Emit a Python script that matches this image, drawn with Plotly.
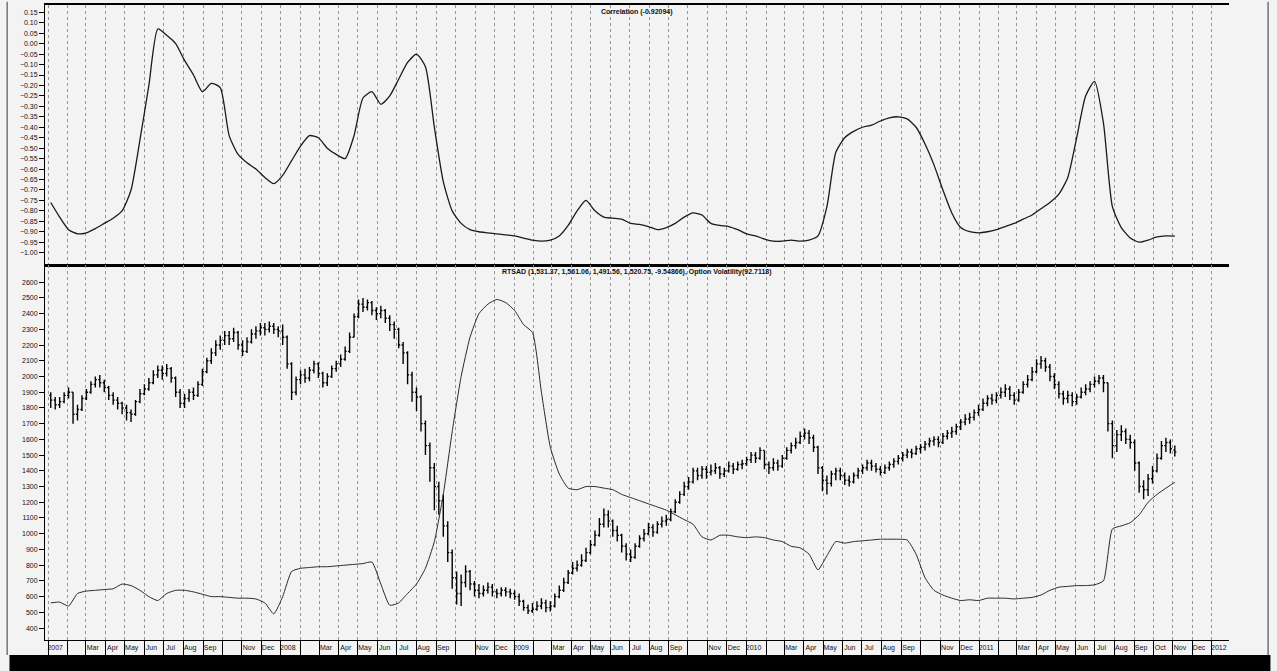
import pandas as pd
import plotly.graph_objects as go

# Weekly RTS index bars (open / high / low / close), Jan 2007 - Nov 2011
week_open = [
    1880, 1850, 1820, 1840, 1880, 1900, 1760, 1790, 1860, 1900,
    1950, 1980, 1960, 1930, 1880, 1850, 1830, 1800, 1770, 1760,
    1840, 1890, 1920, 1960, 2010, 2040, 2020, 2050, 1990, 1900,
    1830, 1860, 1900, 1880, 1950, 2030, 2100, 2150, 2200, 2230,
    2260, 2240, 2280, 2200, 2160, 2220, 2270, 2290, 2310, 2300,
    2320, 2300, 2290, 2250, 2080, 1900, 1980, 2010, 1990, 2040,
    2080, 2020, 1960, 2000, 2050, 2080, 2110, 2160, 2250, 2380,
    2460, 2440, 2470, 2420, 2400, 2420, 2370, 2330, 2300, 2200,
    2150, 2010, 1900, 1870, 1700, 1560, 1420, 1300, 1210, 1050,
    880, 720, 620, 690, 760, 680, 640, 620, 640, 660,
    630, 620, 640, 630, 620, 600, 570, 530, 510, 520,
    540, 560, 530, 540, 600, 640, 690, 750, 780, 800,
    830, 880, 930, 990, 1060, 1120, 1080, 1020, 990, 920,
    870, 850, 920, 970, 1000, 1040, 1010, 1060, 1080, 1090,
    1140, 1200, 1250, 1300, 1330, 1400, 1370, 1410, 1390, 1400,
    1420, 1380, 1400, 1430, 1410, 1440, 1445, 1470, 1500, 1480,
    1530, 1440, 1420, 1450, 1430, 1480, 1530, 1560, 1580, 1620,
    1640, 1610, 1550, 1420, 1340, 1320, 1380, 1400, 1370, 1340,
    1330, 1370, 1400, 1420, 1450, 1430, 1410, 1390, 1420, 1440,
    1460, 1480, 1500, 1520, 1510, 1540, 1550, 1570, 1590, 1600,
    1580, 1620, 1640, 1650, 1680, 1710, 1730, 1740, 1770, 1790,
    1830, 1860, 1850, 1880, 1900, 1920, 1880, 1850, 1900, 1950,
    1980, 2030, 2080, 2100, 2060, 2000, 1950, 1890, 1860, 1880,
    1840, 1870, 1900, 1920, 1950, 1970, 1990, 1960, 1700, 1560,
    1630, 1650, 1600, 1580, 1450, 1300, 1280, 1350, 1400, 1480,
    1560, 1580, 1531.37,
]
week_high = [
    1900, 1870, 1870, 1900, 1930, 1900, 1820, 1880, 1920, 1970,
    2000, 2010, 1980, 1940, 1900, 1870, 1840, 1820, 1790, 1850,
    1920, 1950, 1990, 2040, 2070, 2070, 2080, 2060, 2000, 1920,
    1890, 1920, 1930, 1970, 2050, 2120, 2180, 2230, 2260, 2290,
    2290, 2310, 2290, 2230, 2250, 2300, 2320, 2340, 2340, 2350,
    2340, 2320, 2330, 2260, 2090, 2000, 2040, 2050, 2060, 2100,
    2090, 2030, 2020, 2070, 2100, 2140, 2190, 2280, 2400, 2490,
    2500, 2490, 2480, 2440, 2450, 2430, 2390, 2350, 2310, 2220,
    2160, 2030, 1930, 1880, 1720, 1580, 1450, 1330, 1250, 1080,
    900, 760, 740, 800, 770, 700, 680, 670, 690, 680,
    650, 660, 660, 650, 640, 620, 580, 550, 560, 570,
    590, 580, 570, 620, 670, 720, 770, 820, 830, 870,
    910, 960, 1020, 1100, 1160, 1150, 1090, 1050, 1000, 940,
    900, 940, 990, 1030, 1070, 1060, 1080, 1110, 1120, 1160,
    1220, 1270, 1330, 1360, 1420, 1420, 1430, 1430, 1440, 1450,
    1430, 1420, 1460, 1450, 1460, 1470, 1490, 1520, 1520, 1550,
    1530, 1460, 1480, 1470, 1500, 1550, 1580, 1610, 1650, 1670,
    1660, 1630, 1560, 1430, 1370, 1400, 1420, 1420, 1390, 1370,
    1390, 1420, 1440, 1470, 1470, 1450, 1430, 1440, 1460, 1480,
    1500, 1520, 1540, 1540, 1560, 1570, 1590, 1610, 1620, 1620,
    1640, 1660, 1680, 1700, 1730, 1760, 1770, 1790, 1820, 1860,
    1880, 1890, 1900, 1930, 1950, 1940, 1900, 1920, 1970, 2010,
    2060, 2110, 2130, 2120, 2080, 2020, 1970, 1910, 1910, 1900,
    1890, 1930, 1950, 1970, 2000, 2010, 2010, 1960, 1720, 1660,
    1690, 1670, 1630, 1600, 1460, 1340, 1380, 1430, 1510, 1590,
    1610, 1600, 1561.06,
]
week_low = [
    1800, 1790, 1800, 1830, 1860, 1700, 1720, 1780, 1850, 1890,
    1930, 1930, 1900, 1850, 1820, 1790, 1760, 1720, 1710, 1750,
    1830, 1880, 1910, 1950, 1990, 1980, 2000, 1960, 1870, 1800,
    1800, 1840, 1850, 1870, 1940, 2020, 2080, 2130, 2170, 2200,
    2200, 2220, 2170, 2130, 2150, 2210, 2240, 2260, 2260, 2280,
    2270, 2250, 2200, 2050, 1850, 1880, 1950, 1960, 1970, 2020,
    1990, 1930, 1940, 1990, 2030, 2060, 2100, 2150, 2250, 2370,
    2410, 2420, 2390, 2360, 2370, 2340, 2290, 2240, 2180, 2080,
    1950, 1840, 1780, 1650, 1500, 1330, 1150, 1120, 980, 820,
    650, 550, 540, 660, 640, 600, 590, 600, 620, 600,
    590, 600, 600, 590, 580, 540, 510, 490, 495, 510,
    520, 500, 505, 530, 590, 630, 680, 740, 760, 790,
    820, 870, 920, 980, 1040, 1040, 980, 950, 880, 830,
    820, 840, 910, 950, 990, 980, 1000, 1040, 1050, 1080,
    1130, 1190, 1240, 1280, 1320, 1340, 1350, 1350, 1370, 1380,
    1350, 1360, 1390, 1380, 1400, 1410, 1430, 1450, 1450, 1470,
    1410, 1380, 1400, 1400, 1420, 1470, 1510, 1540, 1570, 1600,
    1570, 1520, 1380, 1270, 1250, 1300, 1340, 1340, 1310, 1300,
    1320, 1350, 1380, 1400, 1400, 1390, 1370, 1380, 1400, 1420,
    1440, 1460, 1480, 1480, 1500, 1510, 1530, 1550, 1560, 1550,
    1570, 1600, 1610, 1630, 1660, 1690, 1700, 1720, 1750, 1780,
    1810, 1820, 1830, 1860, 1870, 1850, 1820, 1840, 1890, 1930,
    1970, 2020, 2050, 2030, 1970, 1920, 1860, 1820, 1830, 1810,
    1820, 1860, 1880, 1900, 1930, 1950, 1900, 1650, 1480, 1520,
    1590, 1570, 1540, 1400, 1260, 1220, 1240, 1320, 1390, 1470,
    1520, 1510, 1491.56,
]
week_close = [
    1850, 1820, 1840, 1880, 1900, 1760, 1790, 1860, 1900, 1950,
    1980, 1960, 1930, 1880, 1850, 1830, 1800, 1770, 1760, 1840,
    1890, 1920, 1960, 2010, 2040, 2020, 2050, 1990, 1900, 1830,
    1860, 1900, 1880, 1950, 2030, 2100, 2150, 2200, 2230, 2260,
    2240, 2280, 2200, 2160, 2220, 2270, 2290, 2310, 2300, 2320,
    2300, 2290, 2250, 2080, 1900, 1980, 2010, 1990, 2040, 2080,
    2020, 1960, 2000, 2050, 2080, 2110, 2160, 2250, 2380, 2460,
    2440, 2470, 2420, 2400, 2420, 2370, 2330, 2300, 2200, 2150,
    2010, 1900, 1870, 1700, 1560, 1420, 1300, 1210, 1050, 880,
    720, 620, 690, 760, 680, 640, 620, 640, 660, 630,
    620, 640, 630, 620, 600, 570, 530, 510, 520, 540,
    560, 530, 540, 600, 640, 690, 750, 780, 800, 830,
    880, 930, 990, 1060, 1120, 1080, 1020, 990, 920, 870,
    850, 920, 970, 1000, 1040, 1010, 1060, 1080, 1090, 1140,
    1200, 1250, 1300, 1330, 1400, 1370, 1410, 1390, 1400, 1420,
    1380, 1400, 1430, 1410, 1440, 1445, 1470, 1500, 1480, 1530,
    1440, 1420, 1450, 1430, 1480, 1530, 1560, 1580, 1620, 1640,
    1610, 1550, 1420, 1340, 1320, 1380, 1400, 1370, 1340, 1330,
    1370, 1400, 1420, 1450, 1430, 1410, 1390, 1420, 1440, 1460,
    1480, 1500, 1520, 1510, 1540, 1550, 1570, 1590, 1600, 1580,
    1620, 1640, 1650, 1680, 1710, 1730, 1740, 1770, 1790, 1830,
    1860, 1850, 1880, 1900, 1920, 1880, 1850, 1900, 1950, 1980,
    2030, 2080, 2100, 2060, 2000, 1950, 1890, 1860, 1880, 1840,
    1870, 1900, 1920, 1950, 1970, 1990, 1960, 1700, 1560, 1630,
    1650, 1600, 1580, 1450, 1300, 1280, 1350, 1400, 1480, 1560,
    1580, 1540, 1520.75,
]

# Fortnightly correlation between index and option volatility
corr_values = [
    -0.76, -0.83, -0.89, -0.91, -0.905, -0.885, -0.86, -0.835, -0.80, -0.70,
    -0.46, -0.20, 0.07, 0.04, 0.00, -0.08, -0.15, -0.23, -0.19, -0.21,
    -0.44, -0.53, -0.57, -0.60, -0.64, -0.67, -0.63, -0.56, -0.49, -0.44,
    -0.45, -0.50, -0.53, -0.55, -0.44, -0.26, -0.23, -0.29, -0.25, -0.17,
    -0.09, -0.05, -0.11, -0.40, -0.66, -0.80, -0.86, -0.89, -0.90, -0.905,
    -0.91, -0.915, -0.92, -0.93, -0.94, -0.945, -0.94, -0.92, -0.87, -0.80,
    -0.75, -0.80, -0.83, -0.835, -0.84, -0.86, -0.865, -0.875, -0.89, -0.88,
    -0.86, -0.83, -0.81, -0.82, -0.86, -0.87, -0.875, -0.89, -0.91, -0.92,
    -0.935, -0.945, -0.945, -0.94, -0.945, -0.94, -0.92, -0.78, -0.52, -0.45,
    -0.42, -0.40, -0.39, -0.37, -0.355, -0.35, -0.36, -0.40, -0.48, -0.58,
    -0.70, -0.81, -0.88, -0.90, -0.905, -0.90, -0.89, -0.875, -0.86, -0.84,
    -0.82, -0.79, -0.76, -0.72, -0.64, -0.45, -0.25, -0.18, -0.38, -0.78,
    -0.88, -0.93, -0.95, -0.94, -0.925, -0.92, -0.92094,
]

# Fortnightly option volatility
vol_values = [
    16.0, 16.5, 14.0, 22.0, 23.5, 24.0, 24.5, 25.0, 28.0, 27.0,
    24.0, 20.0, 17.5, 22.0, 24.0, 24.0, 23.0, 21.5, 20.0, 20.0,
    19.5, 19.0, 19.0, 18.5, 16.0, 9.0, 20.0, 36.0, 38.0, 38.5,
    39.0, 39.0, 39.5, 40.0, 40.5, 41.0, 42.0, 28.0, 14.5, 16.0,
    22.0, 28.0, 38.0, 55.0, 85.0, 125.0, 160.0, 185.0, 200.0, 206.0,
    209.0, 207.0, 202.0, 193.0, 188.0, 150.0, 115.0, 98.0, 89.0, 88.0,
    90.0, 90.0, 89.0, 88.0, 85.0, 83.0, 81.0, 79.0, 77.0, 75.0,
    72.0, 69.0, 66.0, 58.0, 56.0, 59.0, 59.0, 58.0, 57.5, 58.0,
    57.5, 56.0, 55.0, 52.0, 51.0, 47.0, 37.0, 46.0, 55.0, 54.0,
    55.0, 55.5, 56.0, 56.5, 56.5, 56.5, 56.0, 47.0, 32.0, 24.0,
    21.0, 19.0, 17.5, 18.0, 17.5, 19.0, 19.0, 19.0, 18.5, 19.0,
    19.5, 21.0, 24.0, 26.0, 26.5, 27.0, 27.0, 27.5, 30.0, 63.0,
    65.0, 67.0, 72.0, 80.0, 85.0, 89.0, 92.7118,
]

# Month captions along the date axis (Jan 2007 .. Jan 2012)
month_labels = [
    "2007", "", "Mar", "Apr", "May", "Jun", "Jul", "Aug", "Sep", "", "Nov", "Dec",
    "2008", "", "Mar", "Apr", "May", "Jun", "Jul", "Aug", "Sep", "", "Nov", "Dec",
    "2009", "", "Mar", "Apr", "May", "Jun", "Jul", "Aug", "Sep", "", "Nov", "Dec",
    "2010", "", "Mar", "Apr", "May", "Jun", "Jul", "Aug", "Sep", "", "Nov", "Dec",
    "2011", "", "Mar", "Apr", "May", "Jun", "Jul", "Aug", "Sep", "Oct", "Nov", "Dec",
    "2012",
]
corr_ticks = [round(0.15 - 0.05 * k, 2) for k in range(24)]
price_ticks = list(range(400, 2700, 100))

corr_title = "Correlation (-0.92094)"
price_title = ("RTSAD (1,531.37, 1,561.06, 1,491.56, 1,520.75, -9.54866), "
               "Option Volatility(92.7118)")

weeks = pd.date_range("2007-01-05", periods=len(week_close), freq="7D")
fortnights = pd.date_range("2007-01-05", periods=len(corr_values), freq="14D")
month_starts = pd.date_range("2007-01-01", periods=len(month_labels), freq="MS")
label_pos = month_starts + pd.Timedelta(days=11)

BG = "#f3f3f3"
INK = "#111111"
FONT = "Liberation Sans, Arial, sans-serif"
tick_font = dict(family=FONT, size=7, color=INK)
x_range = ["2006-12-27", "2012-01-28"]
corr_range = [-1.06, 0.185]
price_range = [324, 2708]
vol_range = [(price_range[0] - 400) / 10, (price_range[1] - 400) / 10]
split = (640 - 264) / 637

month_grid = dict(tickmode="array", tickvals=list(month_starts), showgrid=True,
                  griddash="dot", gridcolor="#959595", gridwidth=1)

fig = go.Figure()

fig.add_trace(go.Scatter(
    x=fortnights, y=corr_values, mode="lines", xaxis="x", yaxis="y",
    line=dict(color="#1a1a1a", width=1.3, shape="spline", smoothing=0.6),
    showlegend=False,
))
fig.add_trace(go.Ohlc(
    x=weeks, open=week_open, high=week_high, low=week_low, close=week_close,
    xaxis="x2", yaxis="y2", tickwidth=0.35,
    increasing=dict(line=dict(color="#000000", width=1.4)),
    decreasing=dict(line=dict(color="#000000", width=1.4)),
    showlegend=False,
))
fig.add_trace(go.Scatter(
    x=fortnights, y=vol_values, mode="lines", xaxis="x2", yaxis="y5",
    line=dict(color="#2a2a2a", width=1.0, shape="spline", smoothing=0.5),
    showlegend=False,
))

fig.update_layout(
    width=1277, height=671,
    margin=dict(l=45, r=48, t=3, b=31),
    paper_bgcolor=BG, plot_bgcolor=BG,
    showlegend=False,
    xaxis=dict(domain=[0, 1], anchor="y", type="date", range=x_range,
               matches="x2", tickmode="array", tickvals=list(label_pos),
               showticklabels=False, ticks="", showgrid=False, zeroline=False,
               minor=dict(month_grid), showline=True, linecolor="black",
               linewidth=1.5, mirror=True),
    xaxis2=dict(domain=[0, 1], anchor="y2", type="date", range=x_range,
                tickmode="array", tickvals=list(label_pos), ticktext=month_labels,
                ticks="", showgrid=False, zeroline=False, tickfont=tick_font,
                minor=dict(month_grid, ticks="outside", ticklen=15,
                           tickcolor="black", tickwidth=1),
                showline=True, linecolor="black", linewidth=1.2, mirror=True,
                rangeslider=dict(visible=False)),
    yaxis=dict(domain=[split, 1], anchor="x", range=corr_range,
               tickmode="array", tickvals=corr_ticks, tickformat=".2f",
               ticks="outside", ticklen=5, tickcolor="black",
               showgrid=False, zeroline=False, tickfont=tick_font,
               showline=True, linecolor="black", linewidth=1),
    yaxis3=dict(overlaying="y", side="right", anchor="x", range=corr_range,
                tickmode="array", tickvals=corr_ticks, tickformat=".2f",
                ticks="outside", ticklen=5, tickcolor="black",
                showgrid=False, zeroline=False, tickfont=tick_font,
                showline=True, linecolor="black", linewidth=1),
    yaxis2=dict(domain=[0, split], anchor="x2", range=price_range,
                tickmode="array", tickvals=price_ticks, tickformat="d",
                ticks="outside", ticklen=5, tickcolor="black",
                showgrid=False, zeroline=False, tickfont=tick_font,
                showline=True, linecolor="black", linewidth=1),
    yaxis4=dict(overlaying="y2", side="right", anchor="x2", range=price_range,
                tickmode="array", tickvals=price_ticks, tickformat="d",
                ticks="outside", ticklen=5, tickcolor="black",
                minor=dict(tickmode="array", tickvals=list(range(340, 2700, 20)),
                           ticks="outside", ticklen=3, tickcolor="black"),
                showgrid=False, zeroline=False, tickfont=tick_font,
                showline=True, linecolor="black", linewidth=1),
    yaxis5=dict(overlaying="y2", anchor="x2", range=vol_range, visible=False),
)

fig.add_annotation(text=corr_title, xref="paper", yref="paper", x=0.5, y=1,
                   yanchor="top", yshift=-1, showarrow=False,
                   font=dict(family=FONT, size=7, color=INK, weight="bold"))
fig.add_annotation(text=price_title, xref="paper", yref="paper", x=0.5, y=split,
                   yanchor="top", yshift=-1, showarrow=False,
                   font=dict(family=FONT, size=7, color=INK, weight="bold"))

# scanner shadow along the lower edge and the outer frame of the sheet
fig.add_shape(type="rect", xref="paper", yref="paper", x0=-0.03, x1=1.035,
              y0=-0.0487, y1=-0.0235, fillcolor="black", line=dict(width=0),
              layer="above")
fig.add_shape(type="line", xref="paper", yref="paper", x0=-0.032, x1=-0.032,
              y0=-0.0235, y1=1.005, line=dict(color="#333333", width=1))
fig.add_shape(type="line", xref="paper", yref="paper", x0=1.033, x1=1.033,
              y0=-0.0235, y1=1.005, line=dict(color="#333333", width=1))

fig.write_html("out.html")
